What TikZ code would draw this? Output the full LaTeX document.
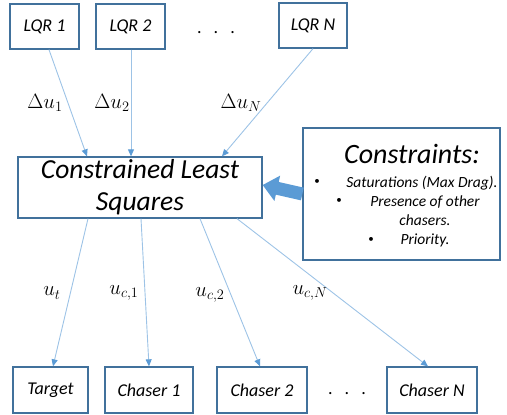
\documentclass[tikz,border=0pt]{standalone}
\usepackage{amsmath}
\usepackage{fontspec}
\setmainfont{Carlito}
\usetikzlibrary{arrows.meta,calc}

\definecolor{boxblue}{HTML}{41719C}
\definecolor{lineblue}{HTML}{9DC3E6}
\definecolor{tipblue}{HTML}{5B9BD5}

\tikzset{
	block/.style={draw=boxblue,line width=1.3pt,fill=white,minimum height=45pt,font=\fontsize{18}{20}\selectfont\itshape,inner sep=2pt},
	link/.style={draw=lineblue,line width=0.9pt,-{Triangle[length=7pt,width=6pt,fill=tipblue,color=tipblue]}},
	lbl/.style={font=\fontsize{21}{22}\selectfont},
	item/.style={font=\fontsize{15.5}{17}\selectfont\itshape,anchor=base},
	dot/.style={font=\fontsize{11}{11}\selectfont}
}

\begin{document}
\begin{tikzpicture}[x=1pt,y=-1pt]
	\useasboundingbox (0,0) rectangle (507,415);

	% controllers
	\node[block,minimum width=69pt] (lqrA) at (44.5,26.5) {LQR 1};
	\node[block,minimum width=69pt] (lqrB) at (130.5,26.5) {LQR 2};
	\node[block,minimum width=68pt] (lqrN) at (313,25.5) {LQR N};
	\node[anchor=base,font=\fontsize{18}{18}\selectfont] (dotsTop) at (216,33) {.\hspace{12pt}.\hspace{12pt}.};

	% solver and constraints
	\node[block,minimum width=244pt,minimum height=61pt,align=center,font=\fontsize{27.5}{32}\selectfont\itshape] (cls) at (140,187.5) {Constrained Least\\Squares};
	\node[block,minimum width=197pt,minimum height=132pt] (cons) at (401.5,194) {};
	\node[font=\fontsize{28}{30}\selectfont\itshape] (consHead) at (412,154) {Constraints:};
	\node[dot] (bA) at (317,182) {\textbullet};
	\node[item] (itA) at (422,187) {Saturations (Max Drag).};
	\node[dot] (bB) at (339,201) {\textbullet};
	\node[item] (itB) at (425,206) {Presence of other};
	\node[item] (itC) at (425,225) {chasers.};
	\node[dot] (bC) at (371,240) {\textbullet};
	\node[item] (itD) at (425,244) {Priority.};

	\draw[tipblue,line width=13pt,-{Triangle[length=15pt,width=25pt]}] (cons.west) -- ([yshift=2.5pt]cls.east);

	% agents
	\node[block,minimum width=75pt,minimum height=46pt] (target) at (50.5,390) {Target};
	\node[block,minimum width=88pt,minimum height=46pt] (chA) at (149,390) {Chaser 1};
	\node[block,minimum width=90pt,minimum height=46pt] (chB) at (262,390) {Chaser 2};
	\node[block,minimum width=90pt,minimum height=46pt] (chN) at (432,390) {Chaser N};
	\node[anchor=base,font=\fontsize{18}{18}\selectfont] (dotsBot) at (347,394) {.\hspace{12pt}.\hspace{12pt}.};

	% inputs
	\draw[link] ([xshift=4.5pt]lqrA.south) -- ([xshift=-53pt]cls.north);
	\draw[link] ([xshift=0.5pt]lqrB.south) -- ([xshift=-9pt]cls.north);
	\draw[link] (lqrN.south) -- ([xshift=82pt]cls.north);

	% outputs
	\draw[link] ([xshift=-52pt]cls.south) -- ([xshift=2.5pt]target.north);
	\draw[link] ([xshift=1pt]cls.south) -- (chA.north);
	\draw[link] ([xshift=60pt]cls.south) -- ([xshift=-2pt]chB.north);
	\draw[link] ([xshift=97pt]cls.south) -- ([xshift=-4pt]chN.north);

	\node[lbl] (duA) at (45,103) {$\Delta u_1$};
	\node[lbl] (duB) at (112,103) {$\Delta u_2$};
	\node[lbl] (duN) at (241,103) {$\Delta u_N$};
	\node[lbl] (ut) at (52,293) {$u_t$};
	\node[lbl] (ucA) at (124,293) {$u_{c,1}$};
	\node[lbl] (ucB) at (210,295) {$u_{c,2}$};
	\node[lbl] (ucN) at (310,293) {$u_{c,N}$};
\end{tikzpicture}
\end{document}
